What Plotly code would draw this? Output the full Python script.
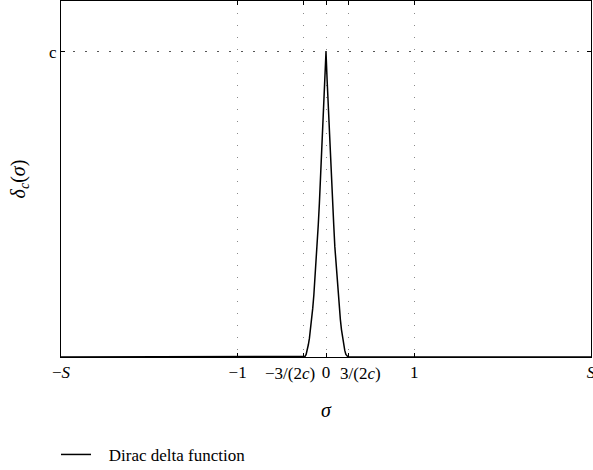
import plotly.graph_objects as go

# Data: S = 3, c = 6
sigma_half = [0.0, 0.0125, 0.025, 0.0375, 0.05, 0.0625, 0.075, 0.0875, 0.1, 0.1125, 0.125,
              0.1375, 0.15, 0.1625, 0.175, 0.1875, 0.2, 0.2125, 0.225, 0.2375, 0.25, 3.0]
delta_half = [6.0, 5.45, 4.92, 4.42, 3.95, 3.5, 3.02, 2.6, 2.17, 1.85, 1.52,
              1.22, 0.96, 0.74, 0.54, 0.37, 0.24, 0.13, 0.05, 0.01, 0.0, 0.0]

# curve is symmetric about sigma = 0
sigma = [-s for s in reversed(sigma_half[1:])] + sigma_half
delta = list(reversed(delta_half[1:])) + delta_half

NB = "\u00a0"
x_tickvals = [-3, -1, -0.25, 0, 0.25, 1, 3]
x_ticktext = ["\u2212<i>S</i>", "\u22121", "", "0", "", "1", "<i>S</i>"]
# labels of the two narrow ticks, drawn beside their ticks (as in the reference)
side_vals = [-0.25, 0.25]
side_text = ["\u22123/(2<i>c</i>)", "3/(2<i>c</i>)"]
side_shift = [-14, 12]
y_tickvals = [6]
y_ticktext = ["c"]

FONT = "Liberation Serif"

fig = go.Figure()
fig.add_trace(go.Scatter(x=sigma, y=delta, mode="lines", line=dict(color="black", width=1.5),
                         name=NB * 3 + "Dirac delta function"))

for v, t, s in zip(side_vals, side_text, side_shift):
    fig.add_annotation(x=v, xref="x", y=0, yref="paper", text=t, showarrow=False,
                       xanchor="center", yanchor="top", xshift=s, yshift=-5,
                       font=dict(family=FONT, size=17, color="black"))

fig.update_layout(
    width=593, height=470,
    margin=dict(l=61, r=2, t=1, b=113, autoexpand=False),
    paper_bgcolor="white", plot_bgcolor="white",
    font=dict(family=FONT, size=17, color="black"),
    showlegend=True,
    legend=dict(orientation="h", x=-0.0094, xanchor="left", y=-0.275, yanchor="middle",
                itemwidth=30, font=dict(size=17), bgcolor="rgba(0,0,0,0)"),
    xaxis=dict(range=[-3, 3], tickmode="array", tickvals=x_tickvals, ticktext=x_ticktext,
               tickangle=0, ticklabeloverflow="allow", automargin=False,
               showline=True, linecolor="black", linewidth=1, mirror="ticks",
               ticks="inside", ticklen=4, tickcolor="black",
               showgrid=True, gridcolor="#8a8a8a", gridwidth=1, griddash="1px,11px",
               zeroline=False, title=dict(text="<i>σ</i>", standoff=21)),
    yaxis=dict(range=[0, 7], tickmode="array", tickvals=y_tickvals, ticktext=y_ticktext,
               automargin=False,
               showline=True, linecolor="black", linewidth=1, mirror="ticks",
               ticks="inside", ticklen=4, tickcolor="black",
               showgrid=True, gridcolor="#555555", gridwidth=1, griddash="2px,10px",
               zeroline=False, title=dict(text="<i>δ<sub>c</sub></i>(<i>σ</i>)", standoff=18)),
)

fig.write_html("out.html")
